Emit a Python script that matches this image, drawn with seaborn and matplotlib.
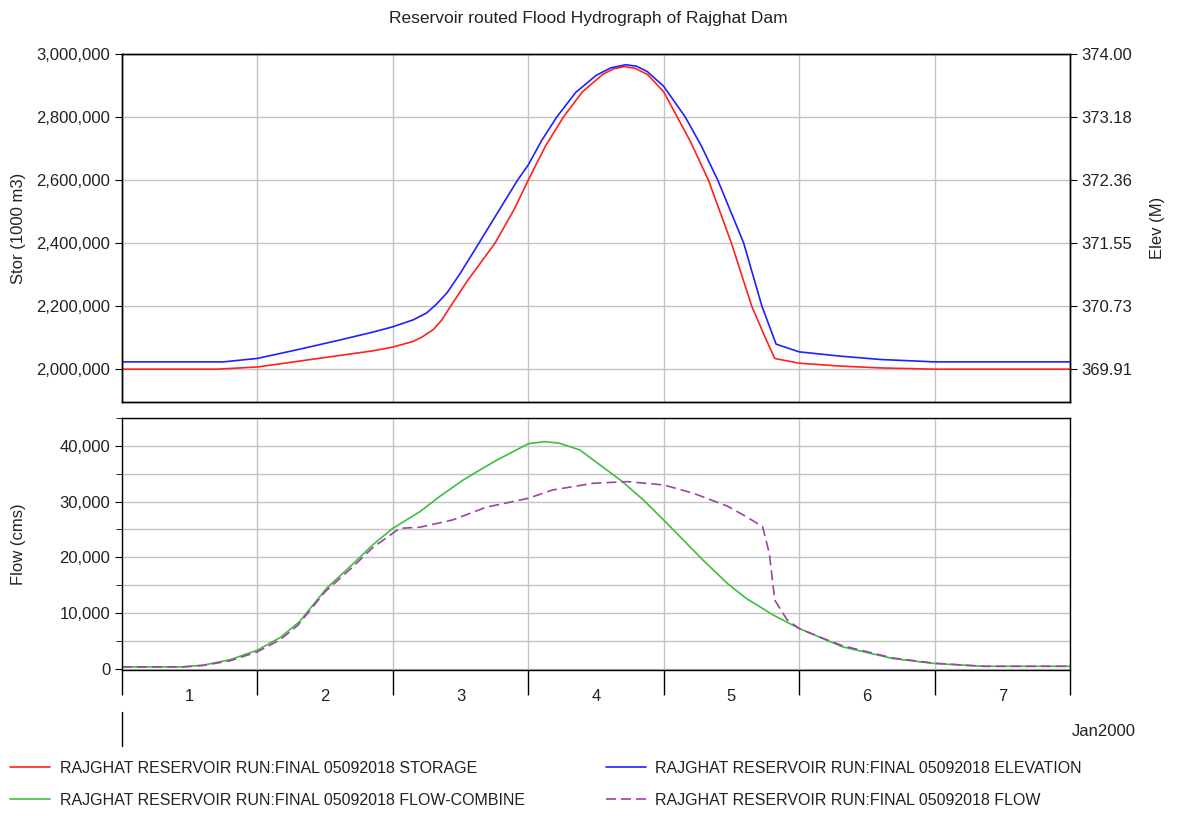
import numpy as np
import seaborn as sns
import matplotlib.pyplot as plt
import matplotlib.transforms as mtransforms
from matplotlib.ticker import FuncFormatter, MultipleLocator

# time in days from 01Jan2000 00:00
stor_days = [0, 0.7, 1.0, 1.3, 1.6, 1.85, 2.0, 2.15, 2.22, 2.3, 2.36, 2.42, 2.55, 2.755,
             2.9, 3.0, 3.13, 3.26, 3.4, 3.55, 3.63, 3.71, 3.79, 3.88, 4.0, 4.1, 4.2,
             4.33, 4.5, 4.65, 4.75, 4.82, 5.0, 5.3, 5.6, 6.0, 7.0]
stor_values = [2000000, 2000000, 2007000, 2025000, 2043000, 2058000, 2070000, 2088000,
               2103000, 2126000, 2155000, 2195000, 2280000, 2400000, 2510000, 2600000,
               2710000, 2800000, 2880000, 2935000, 2953000, 2960000, 2954000, 2935000,
               2880000, 2800000, 2720000, 2600000, 2400000, 2200000, 2100000, 2034000,
               2019000, 2010000, 2004000, 2000000, 2000000]

elev_days = [0, 0.75, 1.0, 1.3, 1.6, 1.85, 2.0, 2.15, 2.25, 2.32, 2.4, 2.5, 2.62, 2.77,
             2.92, 3.0, 3.1, 3.21, 3.35, 3.5, 3.61, 3.72, 3.8, 3.88, 4.0, 4.16, 4.28,
             4.4, 4.59, 4.725, 4.83, 5.0, 5.3, 5.6, 6.0, 7.0]
elev_values = [370.005, 370.005, 370.05, 370.165, 370.285, 370.39, 370.46, 370.55,
               370.64, 370.75, 370.90, 371.16, 371.50, 371.93, 372.36, 372.56, 372.88,
               373.18, 373.50, 373.72, 373.82, 373.86, 373.84, 373.77, 373.58, 373.18,
               372.80, 372.36, 371.55, 370.73, 370.235, 370.135, 370.08, 370.036,
               370.005, 370.005]

flow_comb_days = [0, 0.45, 0.6, 0.8, 1.0, 1.17, 1.31, 1.51, 1.71, 1.85, 2.0, 2.2, 2.35,
                  2.52, 2.65, 2.77, 3.0, 3.12, 3.23, 3.38, 3.53, 3.69, 3.85, 4.0, 4.29,
                  4.47, 4.61, 4.81, 5.0, 5.32, 5.69, 6.0, 6.36, 7.0]
flow_comb_values = [300, 300, 600, 1600, 3300, 5600, 8400, 14400, 18900, 22200, 25200,
                    28200, 31000, 33900, 35800, 37500, 40400, 40800, 40500, 39300, 36600,
                    33700, 30300, 26700, 19500, 15300, 12600, 9600, 7200, 3900, 1800,
                    900, 400, 400]

flow_days = [0, 0.45, 0.6, 0.8, 1.0, 1.17, 1.3, 1.5, 1.71, 1.85, 2.05, 2.2, 2.44, 2.69,
             3.0, 3.18, 3.48, 3.73, 4.0, 4.22, 4.47, 4.61, 4.73, 4.78, 4.82, 4.91, 5.0,
             5.2, 5.32, 5.69, 6.0, 6.36, 7.0]
flow_values = [300, 300, 550, 1400, 3000, 5200, 7800, 13800, 18400, 21700, 25200, 25400,
               26700, 29000, 30600, 32100, 33300, 33600, 33000, 31500, 29200, 27300,
               25500, 20700, 12300, 8800, 7200, 5200, 4100, 1900, 950, 400, 400]

day_labels = ['1', '2', '3', '4', '5', '6', '7']
series_names = ['RAJGHAT RESERVOIR RUN:FINAL 05092018 STORAGE',
                'RAJGHAT RESERVOIR RUN:FINAL 05092018 FLOW-COMBINE',
                'RAJGHAT RESERVOIR RUN:FINAL 05092018 ELEVATION',
                'RAJGHAT RESERVOIR RUN:FINAL 05092018 FLOW']

sns.set_style('white')
plt.rcParams['font.family'] = ['Liberation Sans', 'DejaVu Sans']
plt.rcParams['font.size'] = 12

grid_col = '#c4c4c4'
txt_col = '#222222'

fig = plt.figure(figsize=(11.84, 8.16), dpi=100)
ax1 = fig.add_axes([0.103, 0.5074, 0.8007, 0.4265])
ax1r = ax1.twinx()
ax2 = fig.add_axes([0.103, 0.1789, 0.8007, 0.3088])

sns.lineplot(x=stor_days, y=stor_values, ax=ax1, color='#ff2020', lw=1.2)
sns.lineplot(x=elev_days, y=elev_values, ax=ax1r, color='#2020ff', lw=1.2)
sns.lineplot(x=flow_comb_days, y=flow_comb_values, ax=ax2, color='#3cc03c', lw=1.2)
sns.lineplot(x=flow_days, y=flow_values, ax=ax2, color='#a040a8', lw=1.2,
             linestyle=(0, (6, 3)))

# top panel
ax1.set_xlim(0, 7)
ax1.set_ylim(1896000, 3000000)
ax1r.set_ylim(369.485, 374.0)
ax1.set_yticks(np.arange(2000000, 3000001, 200000))
ax1r.set_yticks(np.linspace(369.91, 374.0, 6))
ax1.yaxis.set_major_formatter(FuncFormatter(lambda v, p: f'{v:,.0f}'))
ax1r.yaxis.set_major_formatter(FuncFormatter(lambda v, p: f'{v:.2f}'))
ax1.set_xticks(range(8))
ax1.tick_params(axis='x', length=0, labelbottom=False)
ax1.grid(True, color=grid_col, lw=1)
ax1.set_axisbelow(True)
ax1.set_ylabel('Stor (1000 m3)', color=txt_col, fontsize=12)
ax1r.set_ylabel('Elev (M)', color=txt_col, fontsize=12)
ax1.yaxis.set_label_coords(-0.101, 0.5)
ax1r.yaxis.set_label_coords(1.0844, 0.5)

# bottom panel
ax2.set_xlim(0, 7)
ax2.set_ylim(-270, 45030)
ax2.set_yticks(np.arange(0, 40001, 10000))
ax2.yaxis.set_minor_locator(MultipleLocator(5000))
ax2.yaxis.set_major_formatter(FuncFormatter(lambda v, p: f'{v:,.0f}'))
ax2.set_xticks(range(8))
ax2.set_xticklabels([''] * 8)
ax2.set_xticks(np.arange(0.5, 7, 1), minor=True)
ax2.set_xticklabels(day_labels, minor=True)
ax2.tick_params(axis='x', which='major', bottom=True, direction='out', length=18,
                width=1, color='black')
ax2.tick_params(axis='x', which='minor', length=0, pad=14, labelcolor=txt_col,
                labelsize=12)
ax2.grid(True, which='major', color=grid_col, lw=1)
ax2.grid(True, which='minor', axis='y', color=grid_col, lw=1)
ax2.set_axisbelow(True)
ax2.set_ylabel('Flow (cms)', color=txt_col, fontsize=12)
ax2.yaxis.set_label_coords(-0.101, 0.5)

for a in (ax1, ax1r, ax2):
    for s in a.spines.values():
        s.set_color('black')
        s.set_linewidth(1)
    a.tick_params(axis='y', which='both', direction='out', color='black',
                  labelcolor=txt_col, labelsize=12)
ax1.tick_params(axis='y', left=True, length=5)
ax1r.tick_params(axis='y', right=True, length=5)
ax2.tick_params(axis='y', which='major', left=True, length=5)
ax2.tick_params(axis='y', which='minor', left=True, length=4)

# month tier of the date axis
trans = mtransforms.blended_transform_factory(ax2.transData, ax2.transAxes)
ax2.plot([0, 0], [-0.167, -0.30], transform=trans, clip_on=False, color='black', lw=1)
fig.text(1072 / 1184, 1 - 731 / 816, 'Jan2000', ha='left', va='center',
         color=txt_col, fontsize=12)

fig.suptitle('Reservoir routed Flood Hydrograph of Rajghat Dam', x=0.497,
             y=1 - 18 / 816, va='center', color=txt_col, fontsize=12.5)

handles = [ax1.lines[0], ax2.lines[0], ax1r.lines[0], ax2.lines[1]]
fig.legend(handles, series_names, ncol=2, loc='upper left',
           bbox_to_anchor=(10 / 1184, 1 - 761 / 816), frameon=False, borderpad=0,
           borderaxespad=0, handlelength=2.5, handletextpad=0.6, columnspacing=5.1,
           labelspacing=1.05, fontsize=11.5, labelcolor=txt_col)

fig.savefig('out.png', dpi=100)
